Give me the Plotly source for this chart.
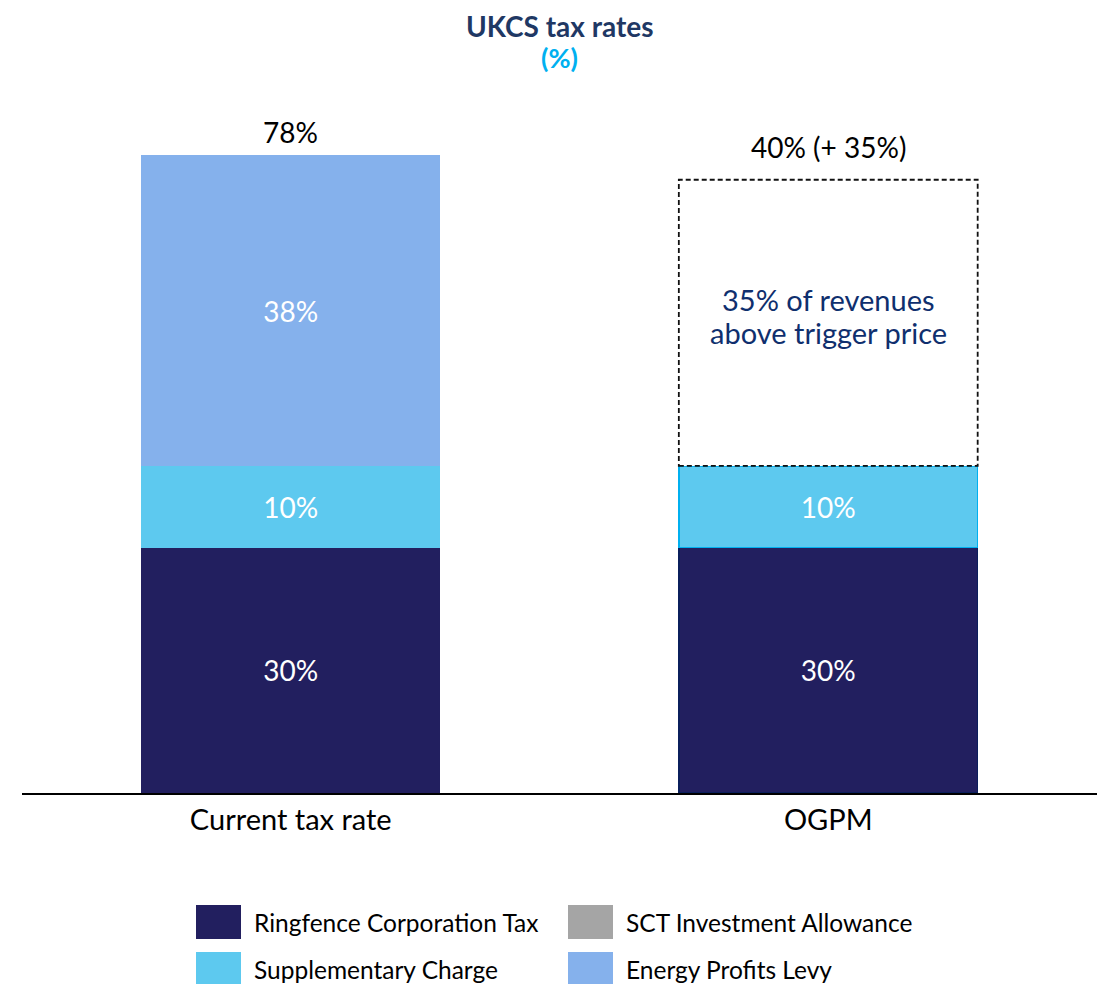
"""
UKCS tax rates: current regime vs OGPM, stacked bars with a dashed
placeholder for the 35% revenue charge.
"""

import plotly.graph_objects as go

# ── data ─────────────────────────────────────────────────────────────────────
categorias = ["Current tax rate", "OGPM"]
ringfence = [30, 30]
supplementary = [10, 10]
sct_allowance = [0, 0]
energy_levy = [38, 0]
ogpm_receitas = [0, 35]          # 35% of revenues above trigger price
rotulos_topo = ["78%", "40% (+ 35%)"]
nota_ogpm = ["35% of revenues", "above trigger price"]
nomes_legenda = [
    "Ringfence Corporation Tax", "SCT Investment Allowance",
    "Supplementary Charge", "Energy Profits Levy",
]

# ── style ────────────────────────────────────────────────────────────────────
CORES = {
    "ringfence": "#221F5F",
    "supplementary": "#5DC9EF",
    "sct": "#A5A5A5",
    "energy": "#85B1EC",
    "titulo": "#1F3864",
    "destaque": "#00B0F0",
    "nota": "#0F2F6E",
}
FONTE = "Lato, Calibri, sans-serif"
LARGURA_BARRA = 0.556

# page body adds an 8px offset, so the figure is laid out 8px smaller
W, H = 1099, 976
ML, MR, MT, MB = 14, 10, 90, 191
PW, PH = W - ML - MR, H - MT - MB


def _px(x):
    return (x - ML) / PW


def _py(y):
    return (H - MB - y) / PH


def _rotulos(valores):
    return [f"{v}%" if v else "" for v in valores]


fig = go.Figure()

# OGPM bars carry a thin border, the current ones don't
fig.add_trace(go.Bar(
    x=categorias, y=ringfence, name=nomes_legenda[0],
    marker=dict(color=CORES["ringfence"],
                line=dict(color=["rgba(0,0,0,0)", "#0B1F5C"], width=[0, 1.5])),
    text=_rotulos(ringfence),
))
fig.add_trace(go.Bar(
    x=categorias, y=supplementary, name=nomes_legenda[2],
    marker=dict(color=CORES["supplementary"],
                line=dict(color=["rgba(0,0,0,0)", CORES["destaque"]], width=[0, 1.5])),
    text=_rotulos(supplementary),
))
fig.add_trace(go.Bar(
    x=categorias, y=sct_allowance, name=nomes_legenda[1],
    marker=dict(color=CORES["sct"]),
))
fig.add_trace(go.Bar(
    x=categorias, y=energy_levy, name=nomes_legenda[3],
    marker=dict(color=CORES["energy"], line=dict(width=0)),
    text=_rotulos(energy_levy),
))
fig.add_trace(go.Bar(
    x=categorias, y=ogpm_receitas, name="OGPM revenue charge",
    marker=dict(color="white", line=dict(width=0)), showlegend=False,
))
fig.update_traces(
    width=LARGURA_BARRA, textposition="inside", insidetextanchor="middle",
    textfont=dict(color="white", size=28, family=FONTE),
    hoverinfo="skip",
)

# dashed outline round the OGPM revenue charge
base_ogpm = ringfence[1] + supplementary[1] + energy_levy[1]
fig.add_shape(
    type="rect", xref="x", yref="y",
    x0=1 - LARGURA_BARRA / 2, x1=1 + LARGURA_BARRA / 2,
    y0=base_ogpm, y1=base_ogpm + ogpm_receitas[1],
    line=dict(color="#111111", width=1.8, dash="5px,3px"),
    fillcolor="rgba(0,0,0,0)", layer="above",
)
# note inside the box, one annotation per line for tighter spacing
for linha, desloc in zip(nota_ogpm, [23, -10]):
    fig.add_annotation(
        x=1, y=base_ogpm + ogpm_receitas[1] / 2, xref="x", yref="y",
        text=linha, showarrow=False, yshift=desloc,
        font=dict(size=29, color=CORES["nota"], family=FONTE),
    )

# totals above each column
totais = [
    ringfence[0] + supplementary[0] + energy_levy[0],
    base_ogpm + ogpm_receitas[1],
]
for cat, total, rot, sobe in zip(categorias, totais, rotulos_topo, [4, 14]):
    fig.add_annotation(
        x=cat, y=total, xref="x", yref="y", text=rot, showarrow=False,
        yanchor="bottom", yshift=sobe,
        font=dict(size=28, color="black", family=FONTE),
    )

# title, two lines
fig.add_annotation(
    x=0.5, y=_py(18), xref="paper", yref="paper", showarrow=False,
    text="<b>UKCS tax rates</b>", yanchor="middle",
    font=dict(size=28, color=CORES["titulo"], family=FONTE),
)
fig.add_annotation(
    x=0.5, y=_py(49), xref="paper", yref="paper", showarrow=False,
    text="<b>(%)</b>", yanchor="middle",
    font=dict(size=27, color=CORES["destaque"], family=FONTE),
)

# custom 2x2 legend with large swatches
cores_legenda = [CORES["ringfence"], CORES["sct"], CORES["supplementary"], CORES["energy"]]
colunas_x = [188, 560]
linhas_y = [897, 944]
for i, (nome, cor) in enumerate(zip(nomes_legenda, cores_legenda)):
    x0 = colunas_x[i % 2]
    y0 = linhas_y[i // 2]
    fig.add_shape(
        type="rect", xref="paper", yref="paper",
        x0=_px(x0), x1=_px(x0 + 45), y0=_py(y0 + 34), y1=_py(y0),
        line=dict(width=0), fillcolor=cor,
    )
    fig.add_annotation(
        x=_px(x0 + 56), y=_py(y0 + 17), xref="paper", yref="paper",
        text=nome, showarrow=False, xanchor="left", yanchor="middle",
        font=dict(size=24.5, color="black", family=FONTE),
    )

fig.update_layout(
    barmode="stack",
    width=W, height=H,
    paper_bgcolor="white", plot_bgcolor="white",
    margin=dict(l=ML, r=MR, t=MT, b=MB),
    showlegend=False,
    font=dict(family=FONTE, color="black"),
)
fig.update_xaxes(
    range=[-0.5, 1.5], showline=True, linecolor="black", linewidth=1.5,
    showgrid=False, zeroline=False, ticks="",
    tickfont=dict(size=29, color="black", family=FONTE),
)
fig.update_yaxes(
    range=[0, 85.0], visible=False, showgrid=False, zeroline=False,
)

fig.write_html("out.html")
